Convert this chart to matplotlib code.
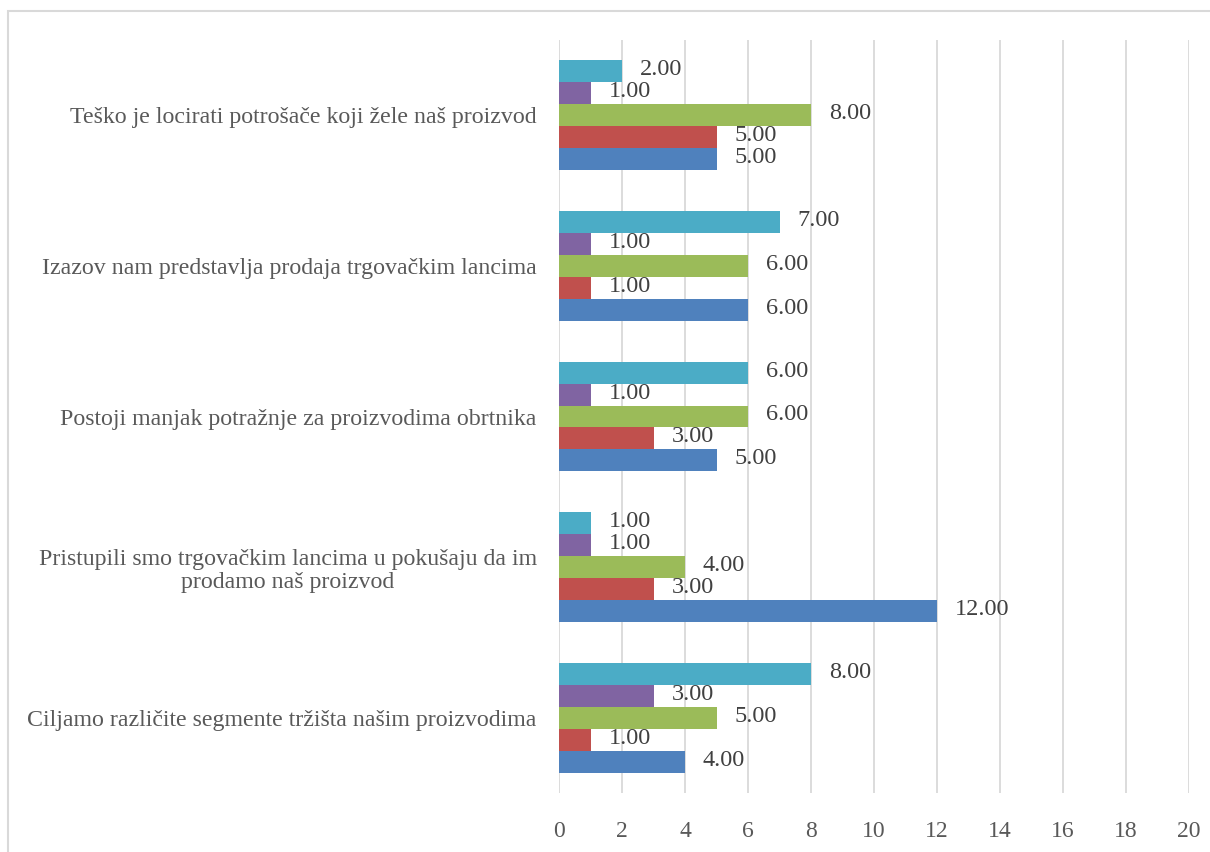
import matplotlib
matplotlib.use("Agg")
import matplotlib.pyplot as plt
from matplotlib.patches import Rectangle
import numpy as np

categories = [
    "Ciljamo različite segmente tržišta našim proizvodima",
    "Pristupili smo trgovačkim lancima u pokušaju da im\nprodamo naš proizvod",
    "Postoji manjak potražnje za proizvodima obrtnika",
    "Izazov nam predstavlja prodaja trgovačkim lancima",
    "Teško je locirati potrošače koji žele naš proizvod",
]
series_blue = [4, 12, 5, 6, 5]
series_red = [1, 3, 3, 1, 5]
series_green = [5, 4, 6, 6, 8]
series_purple = [3, 1, 1, 1, 1]
series_cyan = [8, 1, 6, 7, 2]
x_ticks = [0, 2, 4, 6, 8, 10, 12, 14, 16, 18, 20]

series = [series_blue, series_red, series_green, series_purple, series_cyan]
colors = ["#4F81BD", "#C0504D", "#9BBB59", "#8064A2", "#4BACC6"]

plt.rcParams['font.family'] = ['Liberation Serif', 'DejaVu Serif']
text_color = "#595959"

fig = plt.figure(figsize=(12.10, 8.52), dpi=100)
fig.patches.append(Rectangle((8/1210, -0.1), 1.2, 1.1 - 11/852,
                             transform=fig.transFigure, fill=False,
                             edgecolor="#D9D9D9", linewidth=1.5))
ax = fig.add_axes([559/1210, 1 - 793/852, 630/1210, (793 - 40)/852])

n = len(series)
bh = 0.146
y = np.arange(len(categories))
for i, (vals, c) in enumerate(zip(series, colors)):
    pos = y + (i - (n - 1) / 2) * bh
    ax.barh(pos, vals, height=bh, color=c, zorder=3)
    for p, v in zip(pos, vals):
        ax.text(v + 0.57, p + 0.01, f"{v:.2f}", va="center", ha="left",
                fontsize=17.5, color="#404040", zorder=4)

ax.set_xlim(0, 20)
ax.set_ylim(-0.5, len(categories) - 0.5)
ax.set_xticks(x_ticks)
ax.set_xticklabels([str(t) for t in x_ticks], fontsize=17, color=text_color)
ax.set_yticks(y)
ax.set_yticklabels(categories, fontsize=17.2, color=text_color, ha="right",
                   multialignment="center", linespacing=1.15)
ax.tick_params(axis="y", length=0, pad=16)
ax.tick_params(axis="x", length=0, pad=20)
ax.grid(axis="x", color="#D9D9D9", linewidth=1.3, zorder=0)
for s in ax.spines.values():
    s.set_visible(False)

fig.savefig("out.png", dpi=100)
